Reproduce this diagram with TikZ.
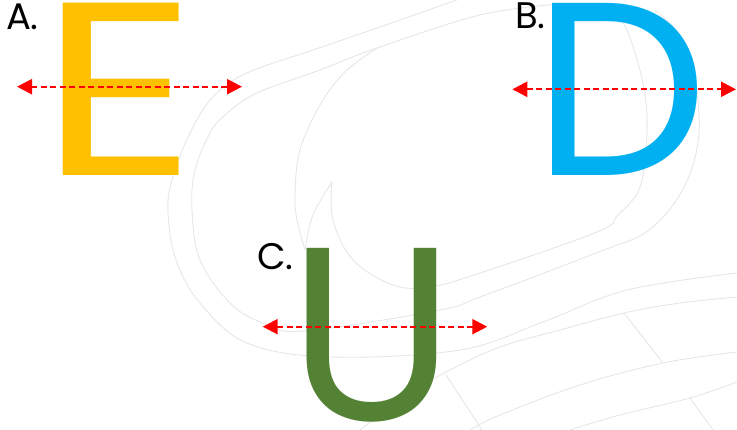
\documentclass[tikz,border=0pt]{standalone}
\usepackage{fontspec}
\usepackage{graphicx}
\usetikzlibrary{arrows.meta}
\newfontfamily\pop{Poppins}
\definecolor{eyellow}{HTML}{FFC000}
\definecolor{dblue}{HTML}{00B0F0}
\definecolor{ugreen}{HTML}{548235}
\definecolor{wmgrey}{HTML}{E6E6E6}
\definecolor{arrred}{HTML}{FF0000}
\begin{document}
\begin{tikzpicture}[x=1pt,y=-1pt,
  wmline/.style={draw=wmgrey,line width=0.9pt},
  bigletter/.style={inner sep=0pt,outer sep=0pt,anchor=base west,font=\pop\fontsize{247}{247}\selectfont},
  labeltext/.style={inner sep=0pt,outer sep=0pt,anchor=base west,font=\pop\fontsize{37}{37}\selectfont},
  symarrow/.style={draw=arrred,line width=2.3pt,dash pattern=on 6pt off 3.5pt,
    {Triangle[length=15pt,width=15pt,fill=arrred]}-{Triangle[length=15pt,width=15pt,fill=arrred]}}]
\useasboundingbox (0,0) rectangle (737,430);
% faint watermark
\draw[wmline] plot[smooth,tension=0.6] coordinates {(457,0) (380,27) (313,50) (247,73) (213,97) (190,133) (172,180) (168,213) (176,260) (200,303) (247,343) (330,357) (460,350) (543,322) (627,290) (737,273)};
\draw[wmline] plot[smooth,tension=0.6] coordinates {(560,4) (480,15) (377,48) (320,70) (257,93) (225,115) (210,133) (195,170) (192,210) (200,260) (230,303) (263,323) (305,331) (440,310) (480,297) (596,253) (649,230) (684,187) (699,133) (693,67) (680,35) (655,10)};
\draw[wmline] plot[smooth,tension=0.6] coordinates {(377,48) (345,72) (320,105) (300,150) (295,193) (297,220) (305,250)};
\draw[wmline] plot[smooth,tension=0.6] coordinates {(305,250) (313,215) (332,182)};
\draw[wmline] plot[smooth,tension=0.6] coordinates {(332,182) (333,220) (353,260) (393,285) (430,287) (480,273) (597,232) (618,215) (640,187) (647,133) (643,83) (627,30) (615,15)};
\draw[wmline] plot[smooth,tension=0.6] coordinates {(737,297) (680,303) (624,313) (560,330) (500,347) (446,372) (400,400) (360,430)};
\draw[wmline] plot[smooth,tension=0.6] coordinates {(737,352) (663,363) (580,385) (500,415) (470,430)};
\draw[wmline] plot[smooth,tension=0.6] coordinates {(737,382) (690,398) (620,415) (570,430)};
\draw[wmline] (624,313) -- (663,363);
\draw[wmline] (690,398) -- (713,430);
\draw[wmline] (446,375) -- (482,430);
% letters
\node[bigletter,text=eyellow] (E) at (39.5,175.7) {\scalebox{1.25}[1]{E}};
\node[bigletter,text=dblue,inner xsep=-16pt] (D) at (549,175.7) {D};
\node[bigletter,text=ugreen] (U) at (288,421) {U};
% labels
\node[labeltext] (la) at (6,30) {A.};
\node[labeltext] (lb) at (515,29) {B.};
\node[labeltext] (lc) at (257,270) {C.};
% symmetry axes
\coordinate (aL) at (17,86.7);
\coordinate (aR) at (242,86.7);
\coordinate (bL) at (512.3,89.3);
\coordinate (bR) at (736,89.3);
\coordinate (cL) at (262.7,326.7);
\coordinate (cR) at (487.3,326.7);
\draw[symarrow] (aL) -- (aR);
\draw[symarrow] (bL) -- (bR);
\draw[symarrow] (cL) -- (cR);
\end{tikzpicture}
\end{document}
